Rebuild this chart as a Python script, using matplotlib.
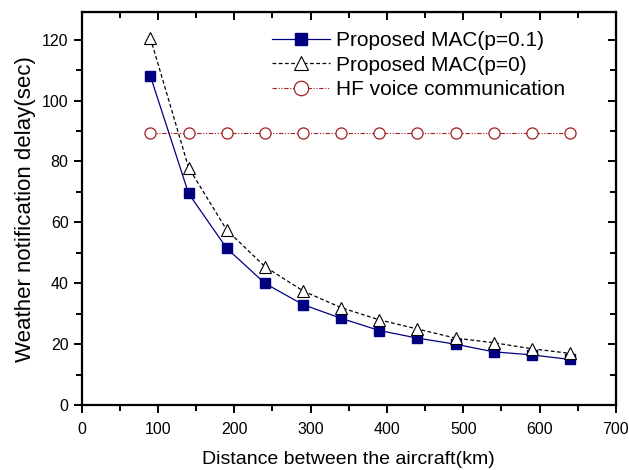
import numpy as np
import matplotlib.pyplot as plt
from matplotlib.ticker import MultipleLocator

# distances (km) and delays (sec)
distance = [90, 140, 190, 240, 290, 340, 390, 440, 490, 540, 590, 640]
delay_p01 = [108, 69.5, 51.5, 40, 33, 28.5, 24.5, 22, 20, 17.5, 16.5, 15]
delay_p0 = [120.5, 78, 57.5, 45.5, 37.5, 32, 28, 25, 22, 20.5, 18.5, 17]
delay_hf = [89.5, 89.5, 89.5, 89.5, 89.5, 89.5, 89.5, 89.5, 89.5, 89.5, 89.5, 89.5]

plt.rcParams['font.family'] = ['Liberation Sans', 'DejaVu Sans']

fig = plt.figure(figsize=(6.29, 4.70), dpi=100)
ax = fig.add_axes([0.130, 0.138, 0.849, 0.836])

ax.plot(distance, delay_p01, color='#000080', lw=0.9, marker='s', ms=7,
        mfc='#000080', mec='#000080', label='Proposed MAC(p=0.1)')
ax.plot(distance, delay_p0, color='black', lw=0.9, ls=(0, (3, 2)), marker='^', ms=8,
        mfc='white', mec='black', mew=0.8, label='Proposed MAC(p=0)')
ax.plot(distance, delay_hf, color='#a02020', lw=0.8, ls=(0, (4, 1.5, 1, 1.5, 1, 1.5)),
        marker='o', ms=8, mfc='white', mec='#a02020', mew=0.9,
        label='HF voice communication')

ax.set_xlim(0, 700)
ax.set_ylim(0, 129)
ax.xaxis.set_major_locator(MultipleLocator(100))
ax.xaxis.set_minor_locator(MultipleLocator(50))
ax.yaxis.set_major_locator(MultipleLocator(20))
ax.yaxis.set_minor_locator(MultipleLocator(10))

for s in ax.spines.values():
    s.set_linewidth(1.6)
ax.tick_params(which='both', direction='out', width=1.4, labelsize=11.5)
ax.tick_params(axis='x', pad=6)
ax.tick_params(which='major', length=6)
ax.tick_params(which='minor', length=4)
# top and right ticks point inward
ax2 = ax.secondary_xaxis('top')
ax2.xaxis.set_major_locator(MultipleLocator(100))
ax2.xaxis.set_minor_locator(MultipleLocator(50))
ax2.tick_params(which='both', direction='in', width=1.4, labeltop=False)
ax2.tick_params(which='major', length=6)
ax2.tick_params(which='minor', length=4)
ax3 = ax.secondary_yaxis('right')
ax3.yaxis.set_major_locator(MultipleLocator(20))
ax3.yaxis.set_minor_locator(MultipleLocator(10))
ax3.tick_params(which='both', direction='in', width=1.4, labelright=False)
ax3.tick_params(which='major', length=6)
ax3.tick_params(which='minor', length=4)

ax.set_xlabel('Distance between the aircraft(km)', fontsize=14, labelpad=10)
ax.set_ylabel('Weather notification delay(sec)', fontsize=16, labelpad=4)

leg = ax.legend(loc='upper right', frameon=False, fontsize=15, markerscale=1.3,
                handlelength=2.8, handletextpad=0.3, labelspacing=0.25,
                borderaxespad=0.2, bbox_to_anchor=(0.929, 0.983))

fig.savefig('out.png', dpi=100)
